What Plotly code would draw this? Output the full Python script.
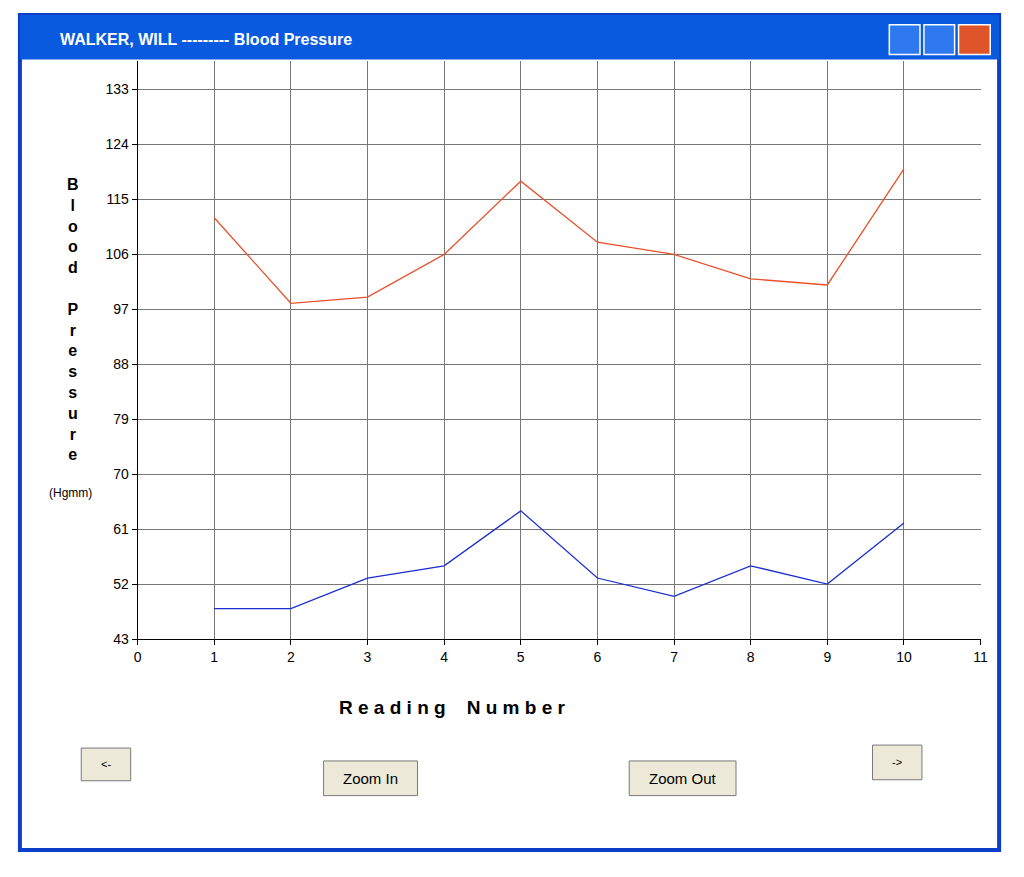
import plotly.graph_objects as go

readings = list(range(1, 11))
systolic = [112, 98, 99, 106, 118, 108, 106, 102, 101, 120]
diastolic = [48, 48, 53, 55, 64, 53, 50, 55, 52, 62]
y_ticks = [43, 52, 61, 70, 79, 88, 97, 106, 115, 124, 133]
x_ticks = list(range(0, 12))

OFF = 8
W, H = 1024 - 2 * OFF, 877 - 2 * OFF
def px(x): return (x - OFF) / W
def py(y): return 1 - (y - OFF) / H

fig = go.Figure()
fig.add_trace(go.Scatter(x=readings, y=systolic, mode="lines", line=dict(color="#E8502A", width=1.3)))
fig.add_trace(go.Scatter(x=readings, y=diastolic, mode="lines", line=dict(color="#1A2FD0", width=1.3)))

shapes = []
shapes.append(dict(type="rect", xref="paper", yref="paper", x0=px(16), x1=px(1006), y0=py(858), y1=py(15),
                   line=dict(color="#0B3FC8", width=4), fillcolor="rgba(0,0,0,0)", layer="below"))
shapes.append(dict(type="rect", xref="paper", yref="paper", x0=px(16), x1=px(1006), y0=py(60), y1=py(15),
                   line=dict(width=0), fillcolor="#0A5AE0", layer="above"))
for x0, x1, col in [(895, 926, "#2E78F0"), (930, 961, "#2E78F0"), (965, 997, "#E0542A")]:
    shapes.append(dict(type="rect", xref="paper", yref="paper", x0=px(x0), x1=px(x1), y0=py(55), y1=py(25),
                       line=dict(color="white", width=1.5), fillcolor=col, layer="above"))
buttons = [(78, 128, 755, 788, "<-"), (323, 418, 768, 803, "Zoom In"),
           (632, 740, 768, 803, "Zoom Out"), (878, 928, 752, 787, "->")]
annotations = []
for x0, x1, y0, y1, t in buttons:
    shapes.append(dict(type="rect", xref="paper", yref="paper", x0=px(x0), x1=px(x1), y0=py(y1), y1=py(y0),
                       line=dict(color="#7A7A7A", width=1), fillcolor="#ECE9D8"))
    annotations.append(dict(xref="paper", yref="paper", x=px((x0 + x1) / 2), y=py((y0 + y1) / 2), text=t,
                            xanchor="center", yanchor="middle", showarrow=False,
                            font=dict(family="Liberation Sans, Arial", size=15 if len(t) > 2 else 11, color="black")))

annotations += [
    dict(xref="paper", yref="paper", x=px(55), y=py(40), xanchor="left", yanchor="middle",
         text="<b>WALKER, WILL --------- Blood Pressure</b>",
         showarrow=False, font=dict(family="Liberation Sans, Arial", size=16, color="white")),
    dict(xref="paper", yref="paper", x=px(70), y=py(322), xanchor="center", yanchor="middle",
         text="<b>B<br>l<br>o<br>o<br>d<br> <br>P<br>r<br>e<br>s<br>s<br>u<br>r<br>e</b>",
         showarrow=False, font=dict(family="Liberation Sans, Arial", size=16, color="black")),
    dict(xref="paper", yref="paper", x=px(67), y=py(498), xanchor="center", yanchor="middle", text="(Hgmm)",
         showarrow=False, font=dict(family="Liberation Sans, Arial", size=12, color="black")),
    dict(xref="paper", yref="paper", x=px(453), y=py(714), xanchor="center", yanchor="middle",
         text="<b>R e a d i n g    N u m b e r</b>",
         showarrow=False, font=dict(family="Liberation Sans, Arial", size=19, color="black")),
]

fig.update_layout(
    width=W, height=H, margin=dict(l=0, r=0, t=0, b=0),
    paper_bgcolor="white", plot_bgcolor="white", showlegend=False,
    shapes=shapes, annotations=annotations,
    xaxis=dict(domain=[px(135), px(988)], range=[0, 11.01], tickvals=x_ticks, ticks="outside", ticklen=5,
               tickcolor="black", showgrid=True, gridcolor="#777777", gridwidth=1, showline=True,
               linecolor="black", zeroline=False, tickfont=dict(family="Liberation Sans, Arial", size=14, color="black")),
    yaxis=dict(domain=[py(645), py(62)], range=[43, 137.6], tickvals=y_ticks, ticks="outside", ticklen=5,
               tickcolor="black", showgrid=True, gridcolor="#777777", gridwidth=1, showline=True,
               linecolor="black", zeroline=False, tickfont=dict(family="Liberation Sans, Arial", size=14, color="black")),
)
fig.write_html("out.html")
